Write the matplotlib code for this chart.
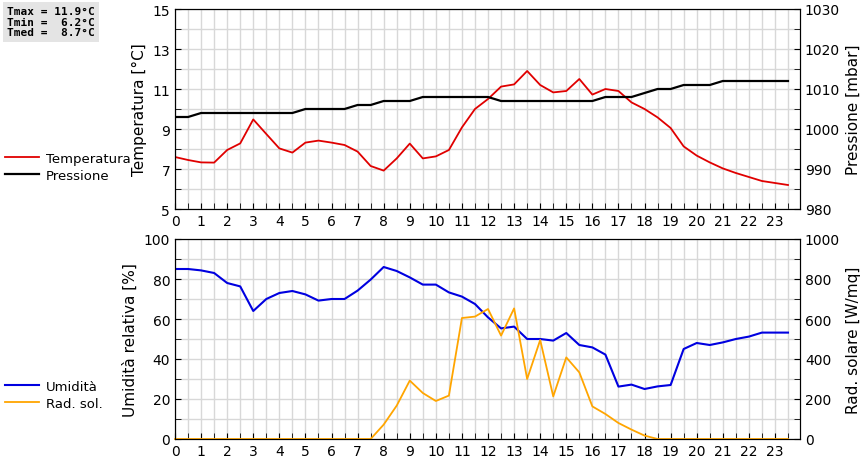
import numpy as np
import matplotlib.pyplot as plt
from matplotlib.ticker import MultipleLocator

# half-hourly readings, 0:00 .. 23:30
ore = np.arange(48) * 0.5

temperatura = [7.6, 7.45, 7.33, 7.32, 7.95, 8.28, 9.48, 8.75, 8.03, 7.82,
               8.32, 8.42, 8.32, 8.2, 7.87, 7.15, 6.92, 7.53, 8.27, 7.53,
               7.63, 7.95, 9.08, 10.0, 10.5, 11.12, 11.23, 11.9, 11.2, 10.83,
               10.9, 11.5, 10.72, 11.0, 10.9, 10.33, 10.0, 9.58, 9.05, 8.13,
               7.67, 7.33, 7.03, 6.8, 6.6, 6.4, 6.3, 6.2]
pressione = [1003, 1003, 1004, 1004, 1004, 1004, 1004, 1004, 1004, 1004,
             1005, 1005, 1005, 1005, 1006, 1006, 1007, 1007, 1007, 1008,
             1008, 1008, 1008, 1008, 1008, 1007, 1007, 1007, 1007, 1007,
             1007, 1007, 1007, 1008, 1008, 1008, 1009, 1010, 1010, 1011,
             1011, 1011, 1012, 1012, 1012, 1012, 1012, 1012]
umidita = [85, 85, 84.3, 83, 78, 76.3, 64, 70, 73, 74,
           72.3, 69.2, 70, 70, 74.2, 79.7, 86, 84, 80.8, 77.2,
           77.2, 73.3, 71.2, 67.5, 60.8, 55.3, 56.2, 50, 50, 49.2,
           53, 47, 45.8, 42.2, 26.2, 27.2, 25, 26.3, 27, 45,
           48, 47, 48.3, 50, 51.2, 53.2, 53.2, 53.2]
rad_sol = [0, 0, 0, 0, 0, 0, 0, 0, 0, 0,
           0, 0, 0, 0, 0, 0, 72, 167, 292, 230,
           190, 217, 605, 612, 650, 517, 653, 300, 495, 213,
           408, 333, 163, 125, 80, 47, 17, 0, 0, 0,
           0, 0, 0, 0, 0, 0, 0, 0]

fig = plt.figure(figsize=(8.6, 4.6), dpi=100)
ax1 = fig.add_axes([175/860, 1-210/460, 625/860, 200/460])
ax3 = fig.add_axes([175/860, 20/460, 625/860, 200/460])


def style(ax):
    ax.set_xlim(0, 23.96)
    ax.set_xticks(range(24))
    ax.xaxis.set_minor_locator(MultipleLocator(0.5))
    ax.grid(True, which='both', axis='x', color='#d8d8d8', lw=1)
    ax.grid(True, which='major', axis='y', color='#d8d8d8', lw=1)
    ax.tick_params(which='both', direction='in', labelsize=10, length=4)
    ax.set_axisbelow(True)


style(ax1)
ax1.set_ylim(5, 15)
ax1.set_yticks([5, 7, 9, 11, 13, 15])
ax1.yaxis.set_minor_locator(MultipleLocator(1))
ax1.grid(True, which='minor', axis='y', color='#d8d8d8', lw=1)
l1, = ax1.plot(ore, temperatura, color='#e00000', lw=1.3, label='Temperatura')
ax1.set_ylabel('Temperatura [°C]', fontsize=11)
ax2 = ax1.twinx()
ax2.set_ylim(980, 1030)
ax2.yaxis.set_minor_locator(MultipleLocator(5))
ax2.tick_params(which='both', direction='in', labelsize=10, length=4)
l2, = ax2.plot(ore, pressione, color='black', lw=1.6, label='Pressione')
ax2.set_ylabel('Pressione [mbar]', fontsize=11)

style(ax3)
ax3.set_ylim(0, 100)
ax3.set_yticks(range(0, 101, 20))
ax3.yaxis.set_minor_locator(MultipleLocator(10))
ax3.grid(True, which='minor', axis='y', color='#d8d8d8', lw=1)
l3, = ax3.plot(ore, umidita, color='#0000e0', lw=1.5, label='Umidità')
ax3.set_ylabel('Umidità relativa [%]', fontsize=11)
ax4 = ax3.twinx()
ax4.set_ylim(0, 1000)
ax4.set_yticks(range(0, 1001, 200))
ax4.yaxis.set_minor_locator(MultipleLocator(100))
ax4.tick_params(which='both', direction='in', labelsize=10, length=4)
l4, = ax4.plot(ore, rad_sol, color='orange', lw=1.3, label='Rad. sol.', clip_on=False)
ax4.set_ylabel('Rad. solare [W/mq]', fontsize=11)

leg_kw = dict(loc='upper left', frameon=False, fontsize=9.5, handlelength=2.6,
              handletextpad=0.5, borderaxespad=0, borderpad=0, labelspacing=0.3)
fig.legend(handles=[l1, l2], bbox_to_anchor=(0.006, 1-153/460), **leg_kw)
fig.legend(handles=[l3, l4], bbox_to_anchor=(0.006, 1-381/460), **leg_kw)

fig.text(0.008, 0.985, 'Tmax = 11.9°C\nTmin =  6.2°C\nTmed =  8.7°C',
         family='DejaVu Sans Mono', fontsize=8, weight='bold', va='top',
         linespacing=1.1, bbox=dict(facecolor='#e4e4e4', edgecolor='none', pad=3))

fig.savefig('out.png', dpi=100)
